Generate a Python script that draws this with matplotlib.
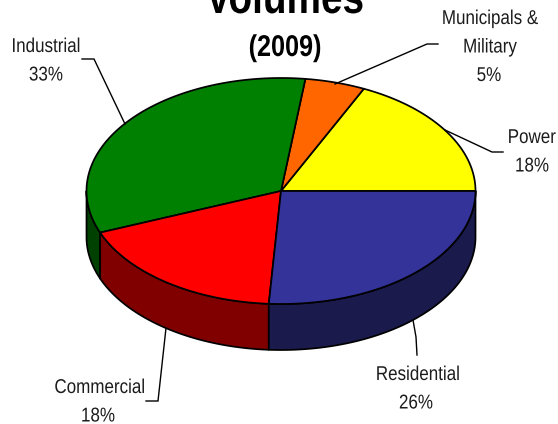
import numpy as np
import matplotlib
matplotlib.use("Agg")
import matplotlib.pyplot as plt
import matplotlib.patheffects as pe
from matplotlib.transforms import Affine2D

# Fuel-sector shares, counter-clockwise from the east point of the pie
sectors = ["Power", "Municipals &\nMilitary", "Industrial", "Commercial", "Residential"]
shares = [18, 5, 33, 18, 26]
top_colors = ["#FFFF00", "#FF6600", "#008000", "#FF0000", "#333399"]
side_colors = ["#808000", "#803300", "#004000", "#800000", "#1A1A4D"]

# Name anchor (x, first baseline y), alignment, percentage centre x and leader path per sector
label_anchor = [(556, 143), (490, 24), (46, 52), (100, 393), (418, 380)]
label_align = ["right", "center", "center", "center", "center"]
percent_x = [532, 489, 46, 98, 416]
leaders = [
    [(503, 152), (492, 152), (445, 130)],
    [(438, 44), (427, 44), (335, 84)],
    [(82, 59), (94, 59), (125, 124)],
    [(146, 401), (158, 401), (166, 328)],
    [(417, 355), (416, 337), (413, 320)],
]

CX, CY, RX, RY, DEPTH = 281, 191, 194.5, 113, 46
LINE_STEP = 28.5
FONT = "Liberation Sans"
INK = "#1c1c1c"


class Condense(pe.AbstractPathEffect):
    """Squeeze glyph outlines horizontally about the text's centre or right edge."""

    def __init__(self, factor, anchor="center"):
        super().__init__()
        self.factor = factor
        self.anchor = anchor

    def draw_path(self, renderer, gc, tpath, affine, rgbFace=None):
        box = affine.transform_path(tpath).get_extents()
        pivot = box.x1 if self.anchor == "right" else 0.5 * (box.x0 + box.x1)
        squeeze = Affine2D().translate(-pivot, 0).scale(self.factor, 1).translate(pivot, 0)
        renderer.draw_path(gc, tpath, affine + squeeze, rgbFace)


fig = plt.figure(figsize=(5.58, 4.24), dpi=100)
ax = fig.add_axes([0, 0, 1, 1])
ax.set_xlim(0, 558)
ax.set_ylim(424, 0)
ax.axis("off")


def rim(a0, a1, dy=0.0):
    t = np.radians(np.linspace(a0, a1, 200))
    return CX + RX * np.cos(t), CY + dy - RY * np.sin(t)


edges = np.concatenate([[0], np.cumsum(shares)]) * 360.0 / sum(shares)

# Side wall: only the front half of the disc (180 to 360 degrees) shows
for i, color in enumerate(side_colors):
    a0, a1 = max(edges[i], 180), max(edges[i + 1], 180)
    if a1 <= a0:
        continue
    x, y = rim(a0, a1)
    xb, yb = rim(a1, a0, DEPTH)
    ax.fill(np.r_[x, xb], np.r_[y, yb], facecolor=color, edgecolor="black",
            linewidth=1.25, joinstyle="round", zorder=2)

# Top face
for i, color in enumerate(top_colors):
    x, y = rim(edges[i], edges[i + 1])
    ax.fill(np.r_[CX, x], np.r_[CY, y], facecolor=color, edgecolor="black",
            linewidth=1.25, joinstyle="round", zorder=3)

# Leader lines
for path in leaders:
    px, py = zip(*path)
    ax.plot(px, py, color="black", linewidth=1.0, zorder=4, solid_joinstyle="miter")

# Labels: name lines followed by the percentage
for name, share, (lx, ly), align, pct_x in zip(sectors, shares, label_anchor, label_align, percent_x):
    name_lines = name.split("\n")
    for k, line in enumerate(name_lines):
        ax.text(lx, ly + k * LINE_STEP, line, family=FONT, fontsize=14.4,
                color=INK, ha=align, va="baseline", zorder=5,
                path_effects=[Condense(0.85, align)])
    ax.text(pct_x, ly + len(name_lines) * LINE_STEP, f"{share}%", family=FONT,
            fontsize=14.4, color=INK, ha="center", va="baseline", zorder=5,
            path_effects=[Condense(0.85)])

# Title, its first line running off the top edge
ax.text(285, 13, "Volumes", family=FONT, fontsize=34, fontweight="bold",
        color="black", ha="center", va="baseline", clip_on=False,
        path_effects=[Condense(0.82)])
ax.text(285, 56, "(2009)", family=FONT, fontsize=21.6, fontweight="bold",
        color="black", ha="center", va="baseline",
        path_effects=[Condense(0.84)])

fig.savefig("out.png", dpi=100, facecolor="white")
